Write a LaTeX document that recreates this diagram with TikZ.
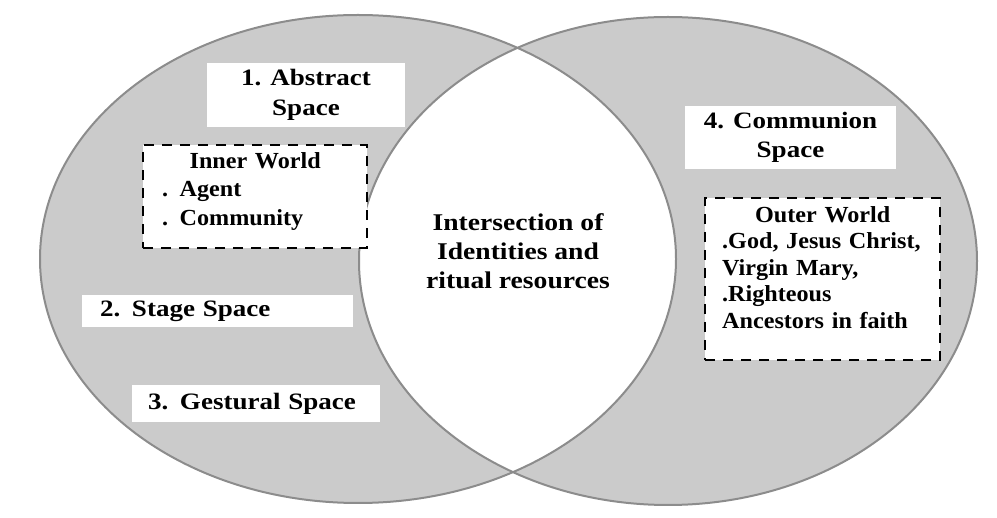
\documentclass[tikz,border=0pt]{standalone}
\usepackage{fontspec}
\setmainfont{Liberation Serif}
\newfontfamily\fLab[FakeStretch=1.15]{Liberation Serif}
\newfontfamily\fBox[FakeStretch=1.05]{Liberation Serif}
\definecolor{vfill}{RGB}{203,203,203}
\definecolor{vline}{RGB}{140,140,140}
\begin{document}
\begin{tikzpicture}[x=1pt,y=-1pt,
  labelbox/.style={fill=white, inner sep=0pt, font=\fLab\bfseries\fontsize{23.5}{29.5}\selectfont},
  centertext/.style={inner sep=0pt, align=center, font=\fLab\bfseries\fontsize{24}{29}\selectfont},
  dbox/.style={draw=black, fill=white, line width=1.8pt, dash pattern=on 10pt off 8pt, inner sep=0pt},
  boxtext/.style={inner sep=0pt, align=left, font=\fBox\bfseries\fontsize{23}{28.5}\selectfont}]
\useasboundingbox (0,0) rectangle (997,518);
% circles
\fill[vfill] (358,259) ellipse [x radius=318pt, y radius=244pt];
\fill[vfill] (668,261) ellipse [x radius=309pt, y radius=244pt];
\begin{scope}
  \clip (358,259) ellipse [x radius=318pt, y radius=244pt];
  \fill[white] (668,261) ellipse [x radius=309pt, y radius=244pt];
\end{scope}
\draw[vline, line width=2pt] (358,259) ellipse [x radius=318pt, y radius=244pt];
\draw[vline, line width=2pt] (668,261) ellipse [x radius=309pt, y radius=244pt];
% labels
\node[labelbox, minimum width=198pt, minimum height=64pt, align=center] (abstract) at (306,95) {1. Abstract\\Space};
\node[labelbox, minimum width=211pt, minimum height=63pt, align=center] (communion) at (790.5,137.5) {4. Communion\\Space};
\node[labelbox, minimum height=32pt, text width=235pt, inner xsep=18pt, align=left] (stage) at (217.5,311) {2. Stage Space};
\node[labelbox, minimum height=37pt, text width=216pt, inner xsep=16pt, align=left] (gestural) at (256,403.5) {3. Gestural Space};
% inner world
\node[dbox, minimum width=224pt, minimum height=103pt] (inner) at (255,196.5) {};
\node[boxtext, anchor=north west, text width=186pt] (innertxt) at (162,152) {\makebox[186pt]{Inner World}\\. Agent\\. Community};
% outer world
\node[dbox, minimum width=235pt, minimum height=162pt] (outer) at (822.5,279) {};
\node[boxtext, anchor=north west, text width=201pt, font=\fBox\bfseries\fontsize{23}{26.5}\selectfont] (outertxt) at (722,206) {\makebox[201pt]{Outer World}\\.God, Jesus Christ,\\Virgin Mary,\\.Righteous\\Ancestors in faith};
% intersection
\node[centertext] (center) at (518,251) {Intersection of\\Identities and\\ritual resources};
\end{tikzpicture}
\end{document}
